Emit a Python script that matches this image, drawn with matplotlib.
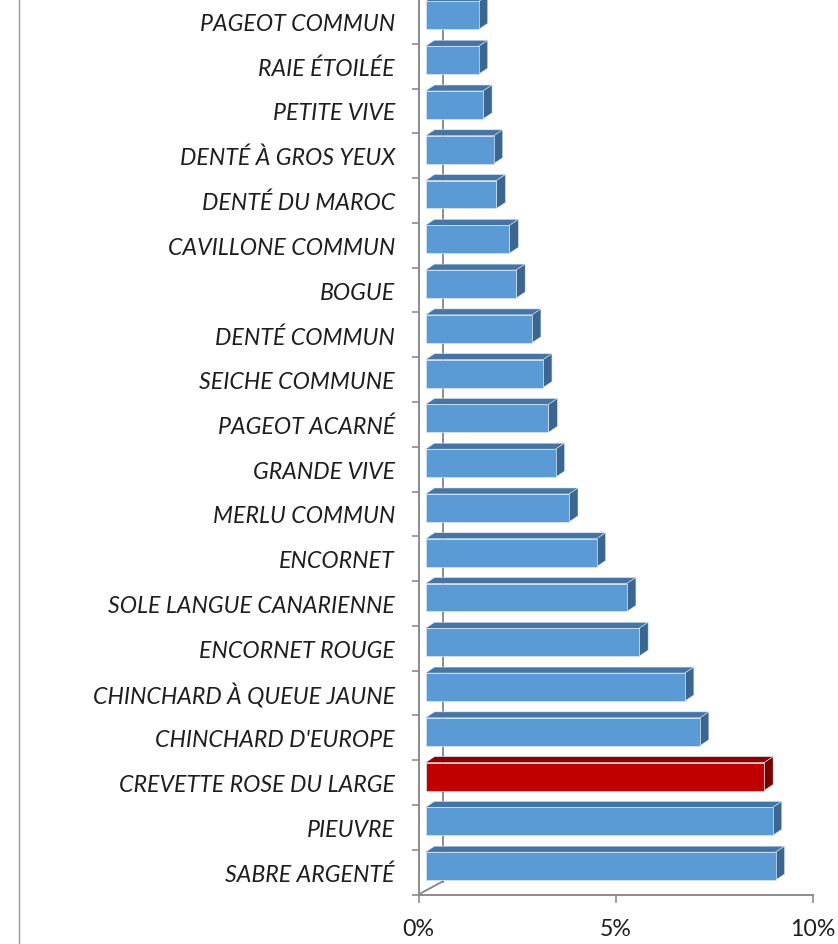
import matplotlib
matplotlib.use("Agg")
import matplotlib.pyplot as plt
from matplotlib.patches import Polygon, Rectangle
from matplotlib.lines import Line2D

# species, bottom to top
species = [
    "SABRE ARGENTÉ", "PIEUVRE", "CREVETTE ROSE DU LARGE", "CHINCHARD D'EUROPE",
    "CHINCHARD À QUEUE JAUNE", "ENCORNET ROUGE", "SOLE LANGUE CANARIENNE",
    "ENCORNET", "MERLU COMMUN", "GRANDE VIVE", "PAGEOT ACARNÉ", "SEICHE COMMUNE",
    "DENTÉ COMMUN", "BOGUE", "CAVILLONE COMMUN", "DENTÉ DU MAROC",
    "DENTÉ À GROS YEUX", "PETITE VIVE", "RAIE ÉTOILÉE", "PAGEOT COMMUN",
]
share = [8.88, 8.81, 8.59, 6.96, 6.58, 5.42, 5.11, 4.34, 3.64, 3.30,
         3.12, 2.98, 2.70, 2.30, 2.13, 1.80, 1.73, 1.46, 1.35, 1.35]
highlight = "CREVETTE ROSE DU LARGE"
xticks = [0, 5, 10]
xticklabels = ["0%", "5%", "10%"]

W, H = 838, 945
fig = plt.figure(figsize=(W / 100, H / 100), dpi=100)

# axes placed so 0% sits on the front wall and 10% on the last tick
x0_px, x10_px, base_px = 418.5, 812.7, 895.5
slot_px = 44.9
ax = fig.add_axes([x0_px / W, (H - base_px) / H, (x10_px - x0_px) / W, base_px / H])
ax.set_xlim(0, 10)
ax.set_ylim(-0.5, -0.5 + base_px / slot_px)

px_x = 10 / (x10_px - x0_px)   # percent per pixel
px_y = 1 / slot_px             # category per pixel

# 3d look
fx, fy = 7 * px_x, 6 * px_y          # front face shift
bh = 28 * px_y                       # bar thickness
dx, dy = 9 * px_x, 6 * px_y          # bar depth
wx, wy = 24 * px_x, 13 * px_y        # wall depth

grey = "#8c8c8c"
ax.plot([0, wx], [-0.5, -0.5 + wy], color=grey, lw=1.4, solid_capstyle="butt", zorder=1)
ax.plot([wx, wx], [-0.5 + wy, 30], color=grey, lw=1.4, zorder=1)

for i, (name, v) in enumerate(zip(species, share)):
    if name == highlight:
        front, top, side = "#c00000", "#8e0000", "#780000"
    else:
        front, top, side = "#5b9bd5", "#4674a3", "#3b6690"
    y0 = i + fy - bh / 2
    y1 = y0 + bh
    x1 = fx + v
    ax.add_patch(Polygon([(fx, y1), (x1, y1), (x1 + dx, y1 + dy), (fx + dx, y1 + dy)],
                         facecolor=top, edgecolor="#dbe6f2", lw=0.4, zorder=3))
    ax.add_patch(Polygon([(x1, y0), (x1 + dx, y0 + dy), (x1 + dx, y1 + dy), (x1, y1)],
                         facecolor=side, edgecolor="#dbe6f2", lw=0.4, zorder=3))
    ax.add_patch(Rectangle((fx, y0), v, bh, facecolor=front,
                           edgecolor="#dbe6f2", lw=0.5, zorder=4))

for s in ["top", "right"]:
    ax.spines[s].set_visible(False)
for s in ["left", "bottom"]:
    ax.spines[s].set_color(grey)
    ax.spines[s].set_linewidth(1.4)
    ax.spines[s].set_zorder(2)

ax.set_yticks([k - 0.5 for k in range(len(species) + 1)])
ax.set_yticklabels([])
ax.set_yticks(range(len(species)), minor=True)
ax.set_yticklabels(species, minor=True, fontfamily="Lato", fontstyle="italic",
                   fontsize=16.7, color="#1e1e1e")
ax.tick_params(axis="y", which="major", length=5, width=1.2, color=grey, direction="out")
ax.tick_params(axis="y", which="minor", length=0, pad=17)

ax.set_xticks(xticks)
ax.set_xticklabels(xticklabels, fontfamily="Lato", fontsize=16.7, color="#1e1e1e")
ax.tick_params(axis="x", length=6, width=1.2, color=grey, direction="out", pad=11)

# chart area border on the left
fig.add_artist(Line2D([19 / W, 19 / W], [0, 1], transform=fig.transFigure,
                      color="#9a9a9a", lw=1))

fig.savefig("out.png", dpi=100)
